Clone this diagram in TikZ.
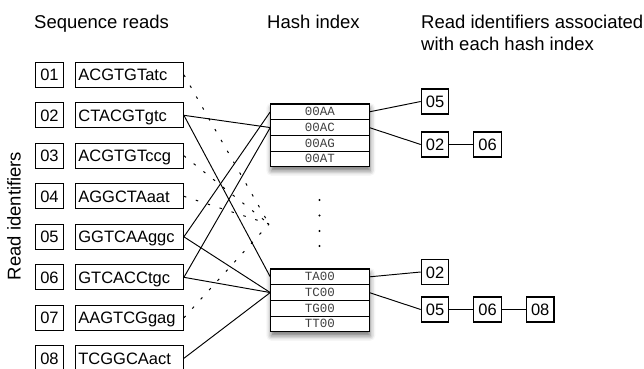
\documentclass[tikz,border=0pt]{standalone}
\usepackage{fontspec}
\setmainfont{Liberation Sans}
\newfontfamily\hashfont{Liberation Mono}
\usetikzlibrary{positioning,fit,backgrounds,shadows.blur}

\begin{document}
\begin{tikzpicture}[x=1pt,y=-1pt,
	idbox/.style={draw,line width=1.1pt,minimum width=27.5pt,minimum height=25pt,inner sep=0pt,
		text height=12pt,text depth=0pt,font=\fontsize{16.5}{18}\selectfont},
	seqbox/.style={draw,line width=1.1pt,text width=102pt,inner xsep=3pt,inner ysep=0pt,minimum height=25pt,
		align=left,text height=12pt,text depth=0pt,font=\fontsize{16.5}{18}\selectfont},
	hashrow/.style={draw,line width=1.1pt,fill=white,minimum width=99pt,minimum height=15.7pt,inner sep=0pt,
		outer sep=0pt,text=black!75,text height=7.5pt,text depth=0pt,font=\hashfont\fontsize{12.5}{13}\selectfont},
	heading/.style={inner sep=0pt,anchor=base west,align=left,font=\fontsize{18.5}{22}\selectfont},
	hashlink/.style={line width=0.95pt},
	elided/.style={line width=1pt,dash pattern=on 2.5pt off 10pt}]
	\useasboundingbox (0,0) rectangle (644,368);

	% headings
	\node[heading] (seqhead) at (34,28) {Sequence reads};
	\node[heading] (hashhead) at (267,28) {Hash index};
	\node[heading] (listhead) at (421,50) {Read identifiers associated\\with each hash index};
	\node[inner sep=0pt,rotate=90,font=\fontsize{18.5}{22}\selectfont] (idhead) at (14,216) {Read identifiers};

	% sequence reads
	\node[idbox] (id01) at (49.5,74.8) {01};
	\node[seqbox,right=11pt of id01] (seq01) {ACGTGTatc};
	\node[idbox] (id02) at (49.5,115.3) {02};
	\node[seqbox,right=11pt of id02] (seq02) {CTACGTgtc};
	\node[idbox] (id03) at (49.5,155.8) {03};
	\node[seqbox,right=11pt of id03] (seq03) {ACGTGTccg};
	\node[idbox] (id04) at (49.5,196.3) {04};
	\node[seqbox,right=11pt of id04] (seq04) {AGGCTAaat};
	\node[idbox] (id05) at (49.5,236.8) {05};
	\node[seqbox,right=11pt of id05] (seq05) {GGTCAAggc};
	\node[idbox] (id06) at (49.5,277.3) {06};
	\node[seqbox,right=11pt of id06] (seq06) {GTCACCtgc};
	\node[idbox] (id07) at (49.5,317.8) {07};
	\node[seqbox,right=11pt of id07] (seq07) {AAGTCGgag};
	\node[idbox] (id08) at (49.5,358.3) {08};
	\node[seqbox,right=11pt of id08] (seq08) {TCGGCAact};

	% hash index
	\node[hashrow] (h00AA) at (319.75,111.85) {00AA};
	\node[hashrow,below=0pt of h00AA] (h00AC) {00AC};
	\node[hashrow,below=0pt of h00AC] (h00AG) {00AG};
	\node[hashrow,below=0pt of h00AG] (h00AT) {00AT};
	\node[hashrow] (hTA00) at (319.75,276.85) {TA00};
	\node[hashrow,below=0pt of hTA00] (hTC00) {TC00};
	\node[hashrow,below=0pt of hTC00] (hTG00) {TG00};
	\node[hashrow,below=0pt of hTG00] (hTT00) {TT00};
	\begin{scope}[on background layer]
		\node[fit=(h00AA)(h00AT),inner sep=0pt,fill=white,
			blur shadow={shadow xshift=1pt,shadow yshift=-4pt,shadow blur radius=5pt,shadow opacity=55}] (topshade) {};
		\node[fit=(hTA00)(hTT00),inner sep=0pt,fill=white,
			blur shadow={shadow xshift=1pt,shadow yshift=-4pt,shadow blur radius=5pt,shadow opacity=55}] (botshade) {};
	\end{scope}
	\fill (319.5,200) circle (1.1pt);
	\fill (319.5,215.5) circle (1.1pt);
	\fill (319.5,231) circle (1.1pt);
	\fill (319.5,246) circle (1.1pt);

	% read lists
	\node[idbox] (aa05) at (435,101.5) {05};
	\node[idbox] (ac02) at (435,144.5) {02};
	\node[idbox,right=24pt of ac02] (ac06) {06};
	\node[idbox] (ta02) at (435,272) {02};
	\node[idbox] (tc05) at (435,309.5) {05};
	\node[idbox,right=24pt of tc05] (tc06) {06};
	\node[idbox,right=24pt of tc06] (tc08) {08};

	% reads to hash index
	\coordinate (elsewhere) at (269,224);
	\draw[elided] (seq01.east) -- (elsewhere);
	\draw[elided] (seq03.east) -- (elsewhere);
	\draw[elided] (seq04.east) -- (elsewhere);
	\draw[elided] (seq07.east) -- (elsewhere);
	\draw[hashlink] (seq02.east) -- (h00AC.west);
	\draw[hashlink] (seq02.east) -- (hTA00.west);
	\draw[hashlink] (seq05.east) -- (h00AA.west);
	\draw[hashlink] (seq06.east) -- (h00AC.west);
	\draw[hashlink] (seq05.east) -- (hTC00.west);
	\draw[hashlink] (seq06.east) -- (hTC00.west);
	\draw[hashlink] (seq08.east) -- (hTC00.west);

	% hash index to read lists
	\draw[hashlink] (h00AA.east) -- (aa05.west);
	\draw[hashlink] (h00AC.east) -- (ac02.west);
	\draw[hashlink] (ac02) -- (ac06);
	\draw[hashlink] (hTA00.east) -- (ta02.west);
	\draw[hashlink] (hTC00.east) -- (tc05.west);
	\draw[hashlink] (tc05) -- (tc06);
	\draw[hashlink] (tc06) -- (tc08);
\end{tikzpicture}
\end{document}
